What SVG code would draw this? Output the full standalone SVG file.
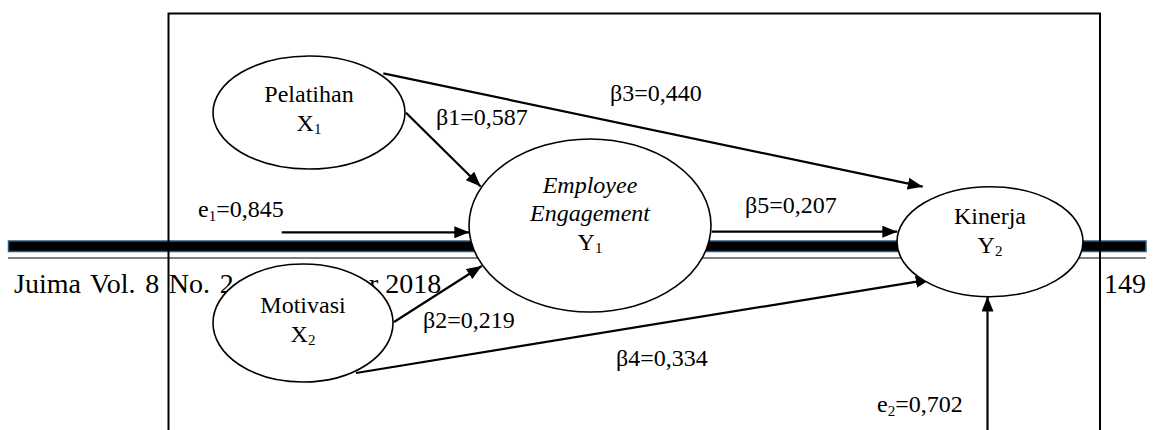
<svg xmlns="http://www.w3.org/2000/svg" width="1153" height="430" viewBox="0 0 1153 430">
  <style>
    text { font-family: "Liberation Serif", "Times New Roman", serif; fill: #000; }
    .lbl { font-size: 24px; }
    .node-text { font-size: 24px; text-anchor: middle; }
    .it { font-style: italic; }
    .sub { font-size: 15px; }
    .footer { font-size: 28px; }
    .node ellipse { fill: #fff; stroke: #000; stroke-width: 1.6; }
    .edge { stroke: #000; stroke-width: 2.2; fill: none; marker-end: url(#arrow); }
  </style>
  <defs>
    <marker id="arrow" markerUnits="userSpaceOnUse" markerWidth="16" markerHeight="12" refX="15" refY="6" orient="auto">
      <path d="M0,0 L15,6 L0,12 z" fill="#000"/>
    </marker>
  </defs>

  <rect width="1153" height="430" fill="#fff"/>

  <!-- page header rule and footer line -->
  <g id="page">
    <rect x="8.5" y="241" width="1137.5" height="10.5" fill="#000" stroke="#2b5a86" stroke-width="1.5"/>
    <line x1="8" y1="258" x2="1146" y2="258" stroke="#000" stroke-width="1.2"/>
    <text class="footer" x="14" y="293" word-spacing="2.7">Juima Vol. 8 No. 2</text>
    <text class="footer" x="369" y="293">r 2018</text>
    <text class="footer" x="1104" y="293">149</text>
  </g>

  <!-- model frame -->
  <path id="frame" d="M168.5,440 V13.5 H1100 V440" fill="none" stroke="#000" stroke-width="2"/>

  <!-- path coefficients -->
  <g id="connectors">
    <line class="edge" x1="406" y1="112.7" x2="480.7" y2="186.5"/>
    <line class="edge" x1="383.3" y1="73.3" x2="922.7" y2="186.7"/>
    <line class="edge" x1="281.7" y1="232.3" x2="469.3" y2="232.3"/>
    <line class="edge" x1="394" y1="322" x2="481.7" y2="266"/>
    <line class="edge" x1="356" y1="373" x2="930.7" y2="279.3"/>
    <line class="edge" x1="711.7" y1="231.7" x2="897.3" y2="231.7"/>
    <line class="edge" x1="987.5" y1="432" x2="987.5" y2="296.5"/>

    <text class="lbl" x="436" y="125">β1=0,587</text>
    <text class="lbl" x="610" y="101">β3=0,440</text>
    <text class="lbl" x="198" y="217">e<tspan class="sub" dy="4">1</tspan><tspan dy="-4">=0,845</tspan></text>
    <text class="lbl" x="745" y="213">β5=0,207</text>
    <text class="lbl" x="423" y="328">β2=0,219</text>
    <text class="lbl" x="616" y="366">β4=0,334</text>
    <text class="lbl" x="877" y="412">e<tspan class="sub" dy="4">2</tspan><tspan dy="-4">=0,702</tspan></text>
  </g>

  <g id="pelatihan" class="node">
    <ellipse cx="309" cy="112.5" rx="96" ry="56.5"/>
    <text class="node-text" x="309" y="102">Pelatihan</text>
    <text class="node-text" x="309" y="131">X<tspan class="sub" dy="3">1</tspan></text>
  </g>

  <g id="motivasi" class="node">
    <ellipse cx="303" cy="323" rx="90" ry="59"/>
    <text class="node-text" x="303" y="313">Motivasi</text>
    <text class="node-text" x="303" y="342">X<tspan class="sub" dy="3">2</tspan></text>
  </g>

  <g id="employee-engagement" class="node">
    <ellipse cx="590" cy="225.5" rx="121" ry="86.5"/>
    <text class="node-text it" x="590" y="193">Employee</text>
    <text class="node-text it" x="590" y="221">Engagement</text>
    <text class="node-text" x="590" y="250">Y<tspan class="sub" dy="3">1</tspan></text>
  </g>

  <g id="kinerja" class="node">
    <ellipse cx="990" cy="241.7" rx="93" ry="55"/>
    <text class="node-text" x="990" y="224">Kinerja</text>
    <text class="node-text" x="990" y="253">Y<tspan class="sub" dy="3">2</tspan></text>
  </g>
</svg>
